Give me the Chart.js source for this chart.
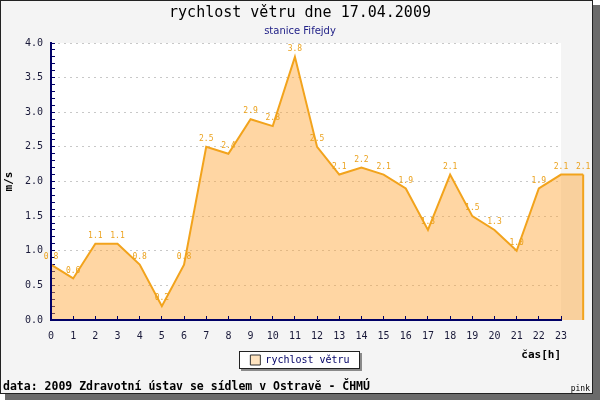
<!DOCTYPE html>
<html>
<head>
<meta charset="utf-8">
<script src="https://cdn.jsdelivr.net/npm/chart.js@4.4.0/dist/chart.umd.min.js"></script>
<style>
  html, body { margin: 0; padding: 0; background: #fff; }
  canvas { display: block; }
</style>
</head>
<body>
<canvas id="chart" width="600" height="400"></canvas>
<script>
// rychlost větru po hodinách, stanice Fifejdy, 17.04.2009
const hours  = [0, 1, 2, 3, 4, 5, 6, 7, 8, 9, 10, 11, 12, 13, 14, 15, 16, 17, 18, 19, 20, 21, 22, 23, 24];
const speeds = [0.8, 0.6, 1.1, 1.1, 0.8, 0.2, 0.8, 2.5, 2.4, 2.9, 2.8, 3.8, 2.5, 2.1, 2.2, 2.1, 1.9, 1.3, 2.1, 1.5, 1.3, 1.0, 1.9, 2.1, 2.1];
const lastHourTick = 23;
const yMax = 4.0;

const titleText = 'rychlost větru dne 17.04.2009';
const subtitleText = 'stanice Fifejdy';
const seriesLabel = 'rychlost větru';
const footerText = 'data: 2009 Zdravotní ústav se sídlem v Ostravě - ČHMÚ';
const cornerText = 'pink';

const MONO = "'DejaVu Sans Mono', monospace";
const NAVY = '#000066';
const LINE = '#f2a31c';
const FILL = 'rgba(255, 165, 50, 0.45)';
const LABEL = '#eba21e';

const isMajor = v => Math.abs(v * 2 - Math.round(v * 2)) < 1e-6;

// rámeček se stínem, bílá plocha grafu a rámeček legendy
const framePlugin = {
    id: 'frame',
    beforeDraw(chart) {
        const { ctx, chartArea: a } = chart;
        ctx.save();
        ctx.fillStyle = '#6b6b6b';
        ctx.fillRect(5, 5, 595, 395);
        ctx.fillStyle = '#f4f4f4';
        ctx.fillRect(0, 0, 593, 394);
        ctx.strokeStyle = '#222';
        ctx.lineWidth = 1;
        ctx.strokeRect(0.5, 0.5, 592, 393);
        ctx.fillStyle = '#fff';
        ctx.fillRect(a.left, a.top, a.right - a.left, a.bottom - a.top);

        const lg = chart.legend;
        if (lg && lg.legendHitBoxes && lg.legendHitBoxes.length) {
            const hb = lg.legendHitBoxes[0];
            const x = Math.round(hb.left - 11), y = Math.round(hb.top + hb.height / 2 - 9);
            const w = Math.round(hb.width + 22), h = 18;
            ctx.fillStyle = '#8a8a8a';
            ctx.fillRect(x + 2, y + 2, w, h);
            ctx.fillStyle = '#fff';
            ctx.fillRect(x, y, w, h);
            ctx.strokeStyle = '#222';
            ctx.strokeRect(x + 0.5, y + 0.5, w - 1, h - 1);
        }
        ctx.restore();
    },
    afterDraw(chart) {
        const { ctx } = chart;
        ctx.save();
        ctx.fillStyle = '#000';
        ctx.textBaseline = 'middle';
        ctx.textAlign = 'left';
        ctx.font = `bold 11.5px ${MONO}`;
        ctx.fillText(footerText, 3, 387);
        ctx.font = `8px ${MONO}`;
        ctx.textAlign = 'right';
        ctx.fillText(cornerText, 590, 389);
        ctx.restore();
    }
};

// filler ořezává na chartArea -> doplnit plochu za poslední značkou osy
const overhangFill = {
    id: 'overhangFill',
    beforeDatasetsDraw(chart) {
        const { ctx, chartArea: a } = chart;
        const pts = chart.getDatasetMeta(0).data;
        const base = chart.scales.y.getPixelForValue(0);
        ctx.save();
        ctx.beginPath();
        ctx.rect(a.right, a.top, chart.width - a.right, base - a.top);
        ctx.clip();
        ctx.beginPath();
        ctx.moveTo(pts[0].x, base);
        pts.forEach(p => ctx.lineTo(p.x, p.y));
        ctx.lineTo(pts[pts.length - 1].x, base);
        ctx.closePath();
        ctx.fillStyle = FILL;
        ctx.fill();
        ctx.restore();
    }
};

// popisky hodnot nad body
const valueLabels = {
    id: 'valueLabels',
    afterDatasetsDraw(chart) {
        const meta = chart.getDatasetMeta(0);
        const { ctx } = chart;
        ctx.save();
        ctx.font = `8px ${MONO}`;
        ctx.fillStyle = LABEL;
        ctx.textAlign = 'center';
        ctx.textBaseline = 'middle';
        meta.data.forEach((pt, i) => ctx.fillText(speeds[i].toFixed(1), pt.x, pt.y - 8));
        ctx.restore();
    }
};

const lastIdx = speeds.length - 1;

new Chart(document.getElementById('chart'), {
    type: 'line',
    data: {
        datasets: [{
            label: seriesLabel,
            data: hours.map((h, i) => ({ x: h, y: speeds[i] })),
            borderColor: LINE,
            borderWidth: 2,
            backgroundColor: FILL,
            fill: 'origin',
            pointRadius: 0,
            tension: 0,
            clip: false
        }, {
            // svislý okraj plochy za poslední hodinou
            label: 'edge',
            data: [{ x: hours[lastIdx], y: speeds[lastIdx] }, { x: hours[lastIdx], y: 0 }],
            borderColor: LINE,
            borderWidth: 2,
            fill: false,
            pointRadius: 0,
            clip: false
        }]
    },
    plugins: [framePlugin, overhangFill, valueLabels],
    options: {
        responsive: false,
        animation: false,
        layout: { padding: { top: 0, left: 0, right: 0, bottom: 25 } },
        scales: {
            x: {
                type: 'linear',
                min: 0,
                afterDataLimits: s => { s.max = lastHourTick; },
                afterFit: s => { s.height = 25; },
                grid: { drawOnChartArea: false, drawTicks: true, tickLength: -4, tickColor: NAVY, z: 1 },
                border: { color: NAVY, width: 2, z: 1 },
                ticks: { stepSize: 1, padding: 14, autoSkip: false, maxRotation: 0, color: '#1a1a3a', font: { family: MONO, size: 10 } },
                title: { display: true, text: 'čas[h]', align: 'end', color: '#000', font: { family: MONO, size: 11, weight: 'bold' }, padding: { top: 0, bottom: -17 } }
            },
            y: {
                min: 0,
                max: yMax,
                afterFit: s => { s.width = 51; },
                grid: {
                    color: c => (c.tick && isMajor(c.tick.value)) ? '#c8c8c8' : 'rgba(0,0,0,0)',
                    tickLength: -4,
                    tickColor: NAVY
                },
                border: { color: NAVY, width: 2, dash: [2, 4], z: 1 },
                ticks: {
                    stepSize: 0.1,
                    autoSkip: false,
                    padding: 12,
                    color: '#1a1a3a',
                    font: { family: MONO, size: 10 },
                    callback: v => isMajor(v) ? v.toFixed(1) : ''
                },
                title: { display: true, text: 'm/s', color: '#000', font: { family: MONO, size: 11, weight: 'bold' }, padding: { top: 3, bottom: 0 } }
            },
            yr: {
                type: 'linear',
                position: 'right',
                afterFit: s => { s.width = 39; },
                grid: { display: false },
                border: { display: false },
                ticks: { display: false }
            }
        },
        plugins: {
            title: {
                display: true,
                text: titleText,
                color: '#000',
                font: { family: MONO, size: 15, weight: 'normal' },
                padding: { top: 4, bottom: 0 }
            },
            subtitle: {
                display: true,
                text: subtitleText,
                color: '#222288',
                font: { family: "'DejaVu Sans', sans-serif", size: 10 },
                padding: { top: 3, bottom: 6 }
            },
            legend: {
                position: 'bottom',
                labels: {
                    boxWidth: 10,
                    boxHeight: 10,
                    padding: 10,
                    color: NAVY,
                    font: { family: MONO, size: 10 },
                    filter: item => item.datasetIndex === 0,
                    generateLabels: chart => {
                        const items = Chart.defaults.plugins.legend.labels.generateLabels(chart);
                        items.forEach(it => { it.fillStyle = '#ffe4c0'; it.strokeStyle = '#333'; it.lineWidth = 1; });
                        return items;
                    }
                }
            },
            tooltip: { enabled: false }
        }
    }
});
</script>
</body>
</html>
